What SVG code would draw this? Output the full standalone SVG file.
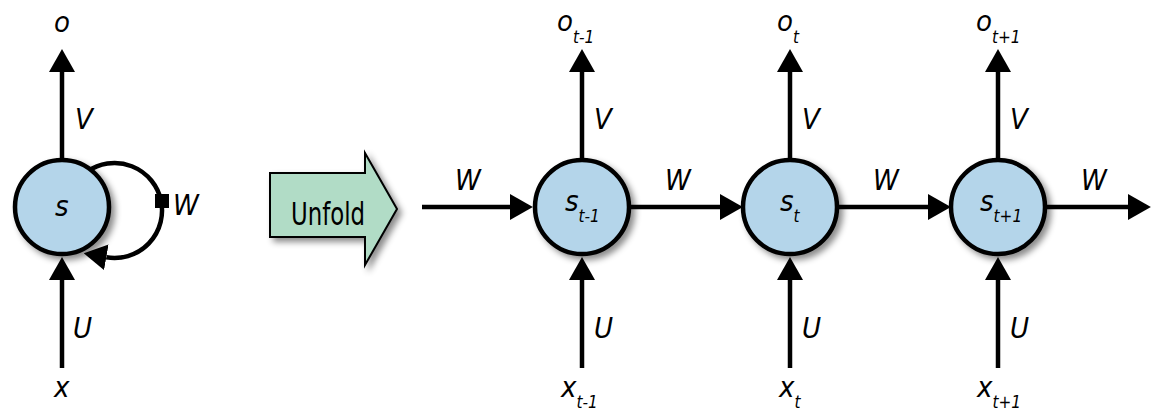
<svg xmlns="http://www.w3.org/2000/svg" width="1156" height="419" viewBox="0 0 1156 419">
<style>
.lbl{font-family:"DejaVu Sans Condensed","DejaVu Sans",sans-serif;font-style:italic;font-size:29px;fill:#000}
.sub{font-size:17px}
.node{fill:#b4d5ea;stroke:#000;stroke-width:4.5}
.edge{fill:none;stroke:#000;stroke-width:4.5}
.unfold{font-family:"DejaVu Sans Condensed","DejaVu Sans",sans-serif;font-size:32px;fill:#000}
</style>
<defs>
<filter id="sh" x="-30%" y="-30%" width="160%" height="160%">
<feDropShadow dx="4" dy="4" stdDeviation="3" flood-color="#000" flood-opacity="0.45"/>
</filter>
<marker id="ah" markerUnits="userSpaceOnUse" markerWidth="23" markerHeight="26" viewBox="0 0 22 25" refX="0" refY="12.5" orient="auto">
<path d="M0,0 L22,12.5 L0,25 z" fill="#000"/>
</marker>
</defs>

<g id="connectors">
<!-- folded -->
<line class="edge" x1="62" y1="160" x2="62" y2="72" marker-end="url(#ah)"/>
<line class="edge" x1="62" y1="368" x2="62" y2="280" marker-end="url(#ah)"/>
<path class="edge" d="M 87.3 171.6 A 47.5 47.5 0 1 1 106.3 257.3" marker-end="url(#ah)"/>
<rect x="155" y="194" width="14" height="14" fill="#000"/>
<!-- unfolded -->
<line class="edge" x1="422" y1="207" x2="510" y2="207" marker-end="url(#ah)"/>
<line class="edge" x1="630" y1="207" x2="720" y2="207" marker-end="url(#ah)"/>
<line class="edge" x1="838" y1="207" x2="928" y2="207" marker-end="url(#ah)"/>
<line class="edge" x1="1046" y1="207" x2="1128" y2="207" marker-end="url(#ah)"/>
<line class="edge" x1="582" y1="160" x2="582" y2="72" marker-end="url(#ah)"/>
<line class="edge" x1="790" y1="160" x2="790" y2="72" marker-end="url(#ah)"/>
<line class="edge" x1="998" y1="160" x2="998" y2="72" marker-end="url(#ah)"/>
<line class="edge" x1="582" y1="368" x2="582" y2="280" marker-end="url(#ah)"/>
<line class="edge" x1="790" y1="368" x2="790" y2="280" marker-end="url(#ah)"/>
<line class="edge" x1="998" y1="368" x2="998" y2="280" marker-end="url(#ah)"/>
</g>

<g id="edge-labels">
<text class="lbl" x="75" y="129">V</text>
<text class="lbl" x="73" y="338">U</text>
<text class="lbl" x="173" y="215">W</text>
<text class="lbl" x="455" y="190">W</text>
<text class="lbl" x="665" y="190">W</text>
<text class="lbl" x="873" y="190">W</text>
<text class="lbl" x="1081" y="190">W</text>
<text class="lbl" x="594" y="129">V</text>
<text class="lbl" x="802" y="129">V</text>
<text class="lbl" x="1010" y="129">V</text>
<text class="lbl" x="594" y="338">U</text>
<text class="lbl" x="802" y="338">U</text>
<text class="lbl" x="1010" y="338">U</text>
</g>

<g id="node-o"><text class="lbl" x="54" y="32">o</text></g>
<g id="node-x"><text class="lbl" x="54" y="397">x</text></g>
<g id="node-s">
<circle class="node" cx="62" cy="207" r="47" filter="url(#sh)"/>
<text class="lbl" x="55" y="216">s</text>
</g>

<g id="unfold">
<polygon points="270,173 365,173 365,153 397,209 365,265 365,237 270,237" fill="#b1dcc6" stroke="#000" stroke-width="2" filter="url(#sh)"/>
<text class="unfold" x="291" y="225" textLength="74" lengthAdjust="spacingAndGlyphs">Unfold</text>
</g>

<g id="node-s-t-1">
<circle class="node" cx="582" cy="207" r="47" filter="url(#sh)"/>
<text class="lbl" x="565" y="211">s<tspan class="sub" dy="11">t-1</tspan></text>
</g>
<g id="node-s-t">
<circle class="node" cx="790" cy="207" r="47" filter="url(#sh)"/>
<text class="lbl" x="780" y="211">s<tspan class="sub" dy="11">t</tspan></text>
</g>
<g id="node-s-t1">
<circle class="node" cx="998" cy="207" r="47" filter="url(#sh)"/>
<text class="lbl" x="980" y="211">s<tspan class="sub" dy="11">t+1</tspan></text>
</g>

<g id="node-o-t-1"><text class="lbl" x="557" y="31">o<tspan class="sub" dy="12">t-1</tspan></text></g>
<g id="node-o-t"><text class="lbl" x="777" y="31">o<tspan class="sub" dy="12">t</tspan></text></g>
<g id="node-o-t1"><text class="lbl" x="976" y="31">o<tspan class="sub" dy="12">t+1</tspan></text></g>
<g id="node-x-t-1"><text class="lbl" x="561" y="397">x<tspan class="sub" dy="11">t-1</tspan></text></g>
<g id="node-x-t"><text class="lbl" x="779" y="397">x<tspan class="sub" dy="11">t</tspan></text></g>
<g id="node-x-t1"><text class="lbl" x="977" y="397">x<tspan class="sub" dy="11">t+1</tspan></text></g>
</svg>
